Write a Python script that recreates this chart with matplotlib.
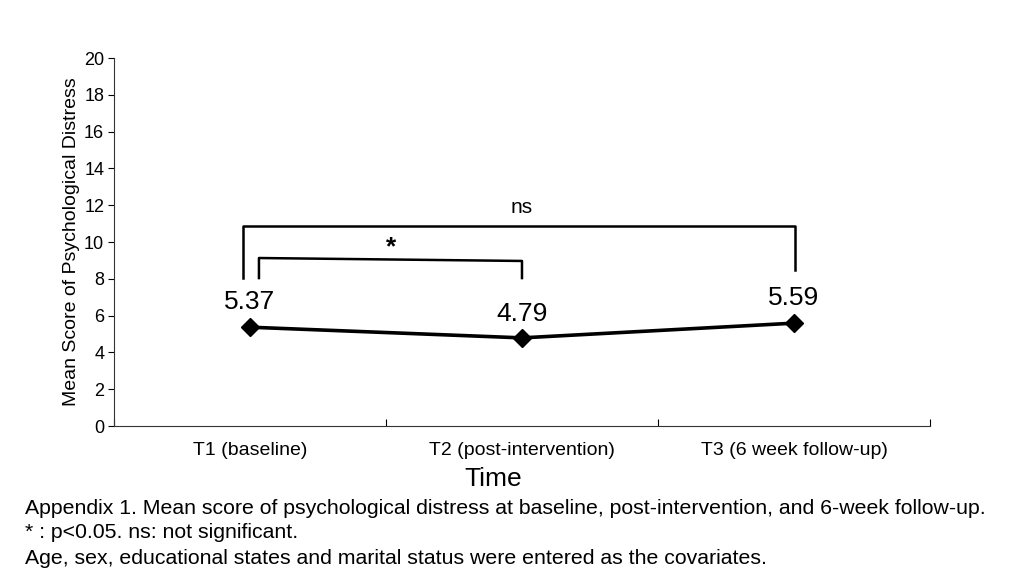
import matplotlib
matplotlib.use("Agg")
import matplotlib.pyplot as plt

plt.rcParams['font.family'] = ['Liberation Sans', 'DejaVu Sans']

categories = ["T1 (baseline)", "T2 (post-intervention)", "T3 (6 week follow-up)"]
means = [5.37, 4.79, 5.59]
value_labels = ["5.37", "4.79", "5.59"]
y_ticks = [0, 2, 4, 6, 8, 10, 12, 14, 16, 18, 20]

fig = plt.figure(figsize=(10.24, 5.76), dpi=100)
ax = fig.add_axes([0.1113, 0.2604, 0.7969, 0.6389])

x = list(range(len(categories)))
ax.plot(x, means, color="black", lw=2.6, marker="D", markersize=9, zorder=3)

label_y = [6.75, 6.1, 6.97]
for xi, ly, lab in zip(x, label_y, value_labels):
    ax.text(xi, ly, lab, ha="center", va="center", fontsize=19)

# significance brackets
ax.plot([-0.026, -0.026, 2.004, 2.004], [8.04, 10.87, 10.87, 8.48], color="black", lw=1.8, clip_on=False)
ax.text(1.0, 11.9, "ns", ha="center", va="center", fontsize=15)
ax.plot([0.033, 0.033, 1.0, 1.0], [8.04, 9.13, 8.97, 8.04], color="black", lw=1.8, clip_on=False)
ax.text(0.52, 9.7, "*", ha="center", va="center", fontsize=19, fontweight="bold")

ax.set_xlim(-0.5, 2.5)
ax.set_ylim(0, 20)
ax.set_yticks(y_ticks)
ax.set_yticklabels([str(t) for t in y_ticks], fontsize=13)
ax.tick_params(axis="y", direction="out", length=4, width=0.8, pad=3)

ax.set_xticks([-0.5, 0.5, 1.5, 2.5])
ax.set_xticklabels([])
ax.tick_params(axis="x", direction="in", length=5, width=0.8)
for xi, cat in zip(x, categories):
    ax.text(xi, -1.35, cat, ha="center", va="center", fontsize=14)

ax.spines["top"].set_visible(False)
ax.spines["right"].set_visible(False)
for s in ("left", "bottom"):
    ax.spines[s].set_linewidth(0.8)
    ax.spines[s].set_color("#333333")

ax.set_ylabel("Mean Score of Psychological Distress", fontsize=14, labelpad=3)
fig.text(493/1024, 1 - 479/576, "Time", ha="center", va="center", fontsize=19)

caption = [
    "Appendix 1. Mean score of psychological distress at baseline, post-intervention, and 6-week follow-up.",
    "* : p<0.05. ns: not significant.",
    "Age, sex, educational states and marital status were entered as the covariates.",
]
for i, line in enumerate(caption):
    fig.text(25/1024, 1 - (508 + 25 * i)/576, line, ha="left", va="center", fontsize=15.3)

fig.savefig("out.png", dpi=100)
